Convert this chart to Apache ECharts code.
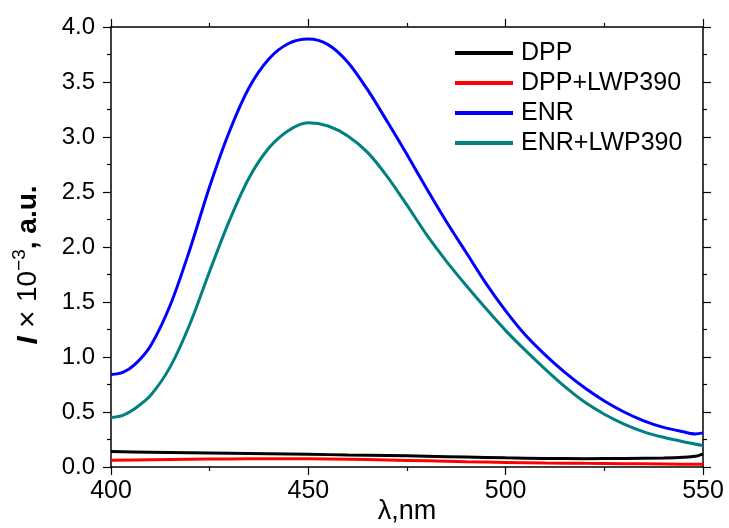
<!DOCTYPE html>
<html>
<head>
<meta charset="utf-8">
<script src="https://cdn.jsdelivr.net/npm/echarts@6/dist/echarts.min.js"></script>
<style>
html,body{margin:0;padding:0;background:#fff;}
#chart{width:729px;height:528px;}
</style>
</head>
<body>
<div id="chart"></div>
<script>
var seriesNames = ['DPP', 'DPP+LWP390', 'ENR', 'ENR+LWP390'];
var xTicks = [400, 450, 500, 550];
var yTicks = [0.0, 0.5, 1.0, 1.5, 2.0, 2.5, 3.0, 3.5, 4.0];

var dpp = [[400,0.14],[410,0.135],[420,0.13],[430,0.125],[440,0.12],[450,0.115],[460,0.11],[470,0.105],[480,0.098],[490,0.09],[500,0.083],[510,0.078],[520,0.076],[530,0.077],[540,0.082],[545,0.088],[548,0.097],[550,0.12]];
var dppLwp = [[400,0.062],[410,0.066],[420,0.07],[430,0.073],[440,0.075],[450,0.074],[460,0.07],[470,0.064],[480,0.056],[490,0.048],[500,0.042],[510,0.037],[520,0.033],[530,0.03],[540,0.027],[550,0.024]];
var enr = [[400,0.84],[403,0.86],[406,0.93],[410,1.10],[415,1.47],[420,1.98],[425,2.55],[430,3.05],[435,3.45],[440,3.71],[445,3.85],[450,3.89],[455,3.84],[460,3.68],[465,3.43],[470,3.14],[475,2.84],[480,2.53],[485,2.23],[490,1.95],[495,1.67],[500,1.42],[505,1.20],[510,1.02],[515,0.86],[520,0.72],[525,0.60],[530,0.50],[535,0.42],[540,0.36],[545,0.32],[548,0.30],[550,0.31]];
var enrLwp = [[400,0.45],[403,0.47],[406,0.53],[410,0.65],[415,0.91],[420,1.30],[425,1.78],[430,2.24],[435,2.63],[440,2.90],[445,3.06],[450,3.13],[455,3.10],[460,3.01],[465,2.86],[470,2.64],[475,2.38],[480,2.11],[485,1.87],[490,1.65],[495,1.44],[500,1.24],[505,1.06],[510,0.89],[515,0.73],[520,0.59],[525,0.48],[530,0.39],[535,0.32],[540,0.27],[545,0.23],[550,0.195]];

var colors = ['#000000', '#ff0000', '#0000ff', '#008080'];
var FONT = '"Liberation Sans", Arial, sans-serif';

var chart = echarts.init(document.getElementById('chart'), null, {renderer: 'canvas'});

function baseX(show, pos) {
  return {
    type: 'value', min: xTicks[0], max: xTicks[xTicks.length-1], interval: xTicks[1]-xTicks[0],
    position: pos,
    axisLine: {show: true, onZero: false, lineStyle: {color: '#000', width: 1.5}},
    axisTick: {show: true, inside: false, length: 8, lineStyle: {color: '#000', width: 1.2}},
    minorTick: {show: true, splitNumber: 2, length: 4, lineStyle: {color: '#000', width: 1.2}},
    splitLine: {show: false},
    axisLabel: {show: show, color: '#000', fontFamily: FONT, fontSize: 25, margin: 12}
  };
}
function baseY(show, pos) {
  return {
    type: 'value', min: yTicks[0], max: yTicks[yTicks.length-1], interval: yTicks[1]-yTicks[0],
    position: pos,
    axisLine: {show: true, onZero: false, lineStyle: {color: '#000', width: 1.5}},
    axisTick: {show: true, inside: false, length: 8, lineStyle: {color: '#000', width: 1.2}},
    minorTick: {show: true, splitNumber: 2, length: 4, lineStyle: {color: '#000', width: 1.2}},
    splitLine: {show: false},
    axisLabel: {show: show, color: '#000', fontFamily: FONT, fontSize: 24, margin: 16,
      formatter: function(v){ return v.toFixed(1); }}
  };
}

var x0 = baseX(true, 'bottom');
x0.name = 'λ,nm';
x0.nameLocation = 'middle';
x0.nameGap = 31;
x0.nameMoveOverlap = false;
x0.nameTextStyle = {color: '#000', fontFamily: FONT, fontSize: 27};
var x1 = baseX(false, 'top');

var y0 = baseY(true, 'left');
y0.name = '{i|I}{x| × }{n|10}{s|−3}{b|, a.u.}';
y0.nameLocation = 'middle';
y0.nameGap = 64;
y0.nameTextStyle = {
  color: '#000', fontFamily: FONT, fontSize: 28, padding: [0, 36, 0, 0],
  rich: {
    i: {fontFamily: FONT, fontSize: 30, fontWeight: 'bold', fontStyle: 'italic', color: '#000'},
    x: {fontFamily: FONT, fontSize: 30, color: '#000'},
    n: {fontFamily: FONT, fontSize: 28, color: '#000'},
    s: {fontFamily: FONT, fontSize: 19, color: '#000', padding: [0, 0, 18, 0]},
    b: {fontFamily: FONT, fontSize: 28, fontWeight: 'bold', color: '#000'}
  }
};
var y1 = baseY(false, 'right');

var datasets = [dpp, dppLwp, enr, enrLwp];
var series = seriesNames.map(function(n, i){
  return {
    name: n, type: 'line', data: datasets[i], xAxisIndex: 0, yAxisIndex: 0,
    showSymbol: false, symbol: 'none', smooth: 0.3,
    lineStyle: {color: colors[i], width: 3},
    itemStyle: {color: colors[i]},
    z: 2 + i
  };
});

chart.setOption({
  backgroundColor: '#fff',
  animation: false,
  grid: {left: 111, right: 26, top: 27, bottom: 61, containLabel: false, outerBoundsMode: 'none'},
  xAxis: [x0, x1],
  yAxis: [y0, y1],
  legend: {
    show: true, orient: 'vertical', left: 455, top: 38, padding: 0,
    icon: 'rect', itemWidth: 58, itemHeight: 4, itemGap: 0,
    data: seriesNames,
    textStyle: {color: '#000', fontFamily: FONT, fontSize: 25, lineHeight: 30, padding: [0, 0, 0, 3]}
  },
  series: series
});
</script>
</body>
</html>
